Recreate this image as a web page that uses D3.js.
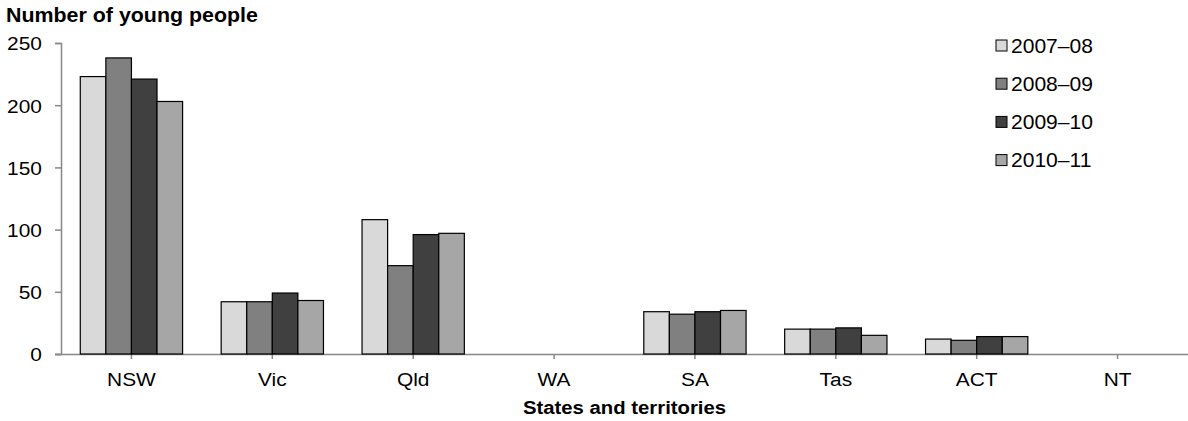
<!DOCTYPE html>
<html>
<head>
<meta charset="utf-8">
<script src="https://cdn.jsdelivr.net/npm/d3@7"></script>
<style>
  html, body { margin: 0; padding: 0; background: #fff; }
  svg { display: block; font-family: "Liberation Sans", Arial, sans-serif; }
</style>
</head>
<body>
<svg id="chart" width="1188" height="421"></svg>
<script>
const categories = ["NSW", "Vic", "Qld", "WA", "SA", "Tas", "ACT", "NT"];
const seriesNames = ["2007–08", "2008–09", "2009–10", "2010–11"];
const values2007 = [223, 42, 108, 0, 34, 20, 12, 0];
const values2008 = [238, 42, 71, 0, 32, 20, 11, 0];
const values2009 = [221, 49, 96, 0, 34, 21, 14, 0];
const values2010 = [203, 43, 97, 0, 35, 15, 14, 0];
const seriesValues = [values2007, values2008, values2009, values2010];
const seriesColors = ["#d9d9d9", "#808080", "#404040", "#a6a6a6"];
const yTicks = [0, 50, 100, 150, 200, 250];
const yTitle = "Number of young people";
const xTitle = "States and territories";

const svg = d3.select("#chart");
const plotLeft = 61, plotRight = 1188, plotTop = 43, plotBottom = 354;
const SX = 1.1;

const x0 = d3.scaleBand().domain(categories).range([plotLeft, plotRight]).padding(0);
const x1 = d3.scaleBand().domain(seriesNames).range([0, x0.bandwidth()]).paddingInner(0).paddingOuter(0.754);
const y = d3.scaleLinear().domain([0, 250]).range([plotBottom, plotTop]);

// bars
const rows = [];
categories.forEach((c, i) => {
  seriesNames.forEach((s, j) => {
    rows.push({ cat: c, series: s, value: seriesValues[j][i], color: seriesColors[j] });
  });
});

// y axis
const yAxis = svg.append("g").attr("transform", `translate(${plotLeft},0)`)
  .call(d3.axisLeft(y).tickValues(yTicks).tickSize(6).tickPadding(0).tickFormat(d3.format("d")));
yAxis.select(".domain").attr("stroke", "#888").attr("stroke-width", 1.5);
yAxis.selectAll(".tick line").attr("stroke", "#888").attr("stroke-width", 1.5);
yAxis.selectAll(".tick text")
  .attr("x", 0).attr("dy", "0.36em")
  .attr("transform", `translate(-19,0) scale(${SX},1)`)
  .attr("text-anchor", "end")
  .style("font-size", "19px").attr("fill", "#000")
  .style("font-family", "'Liberation Sans', Arial, sans-serif");

// x axis
const xAxis = svg.append("g").attr("transform", `translate(0,${plotBottom})`)
  .call(d3.axisBottom(x0).tickSize(5).tickSizeOuter(0).tickPadding(0));
xAxis.select(".domain").attr("d", `M${plotLeft - 6},0.5H${plotRight}`).attr("stroke", "#888").attr("stroke-width", 1.5);
xAxis.selectAll(".tick line").attr("stroke", "#888").attr("stroke-width", 1.5);
xAxis.selectAll(".tick text")
  .attr("y", 0).attr("dy", 0)
  .attr("transform", `translate(0,32) scale(${SX},1)`)
  .attr("text-anchor", "middle")
  .style("font-size", "19px").attr("fill", "#000")
  .style("font-family", "'Liberation Sans', Arial, sans-serif");

svg.append("g").selectAll("rect")
  .data(rows.filter(d => d.value > 0))
  .join("rect")
  .attr("x", d => x0(d.cat) + x1(d.series))
  .attr("y", d => y(d.value))
  .attr("width", x1.bandwidth())
  .attr("height", d => y(0) - y(d.value))
  .attr("fill", d => d.color)
  .attr("stroke", "#000")
  .attr("stroke-width", 1.2);

// titles
svg.append("text")
  .attr("transform", `translate(6,21.5) scale(1.07,1)`)
  .style("font-size", "20px").style("font-weight", "bold")
  .text(yTitle);
svg.append("text")
  .attr("transform", `translate(${(plotLeft + plotRight) / 2},414) scale(1.07,1)`)
  .attr("text-anchor", "middle")
  .style("font-size", "19px").style("font-weight", "bold")
  .text(xTitle);

// legend
const legend = svg.append("g");
seriesNames.forEach((s, j) => {
  const cy = 45.5 + j * 38.2;
  legend.append("rect")
    .attr("x", 996).attr("y", cy - 5.5)
    .attr("width", 11).attr("height", 11)
    .attr("fill", seriesColors[j]).attr("stroke", "#000").attr("stroke-width", 1);
  legend.append("text")
    .attr("transform", `translate(1011,${cy}) scale(1.08,1)`)
    .attr("dy", "0.36em")
    .style("font-size", "19.5px")
    .text(s);
});
</script>
</body>
</html>
